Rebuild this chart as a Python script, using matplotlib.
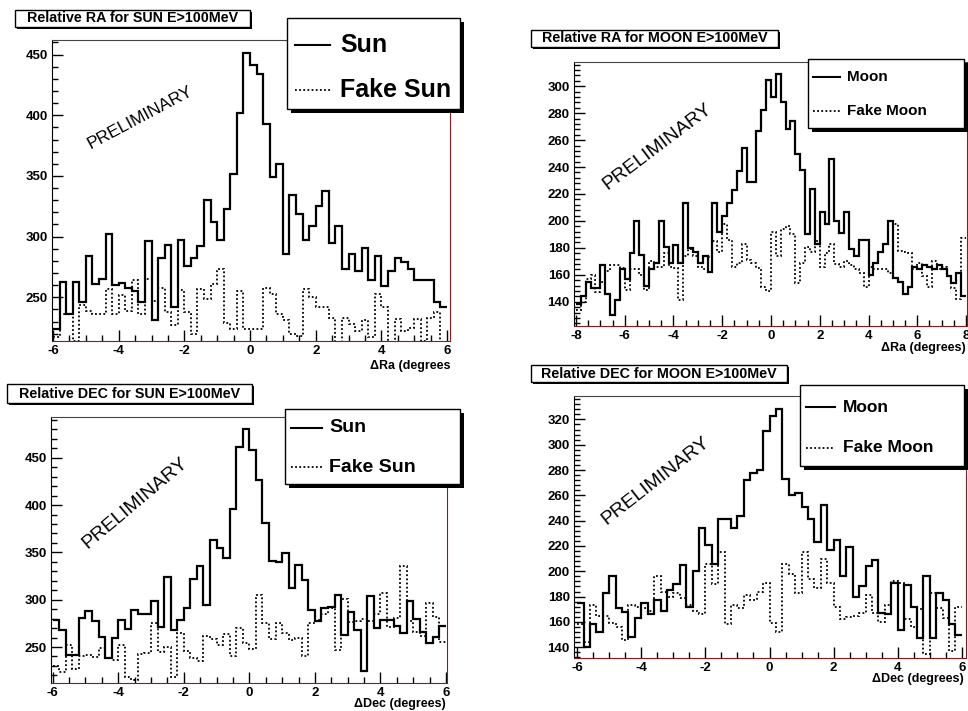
import numpy as np
import matplotlib
matplotlib.use("Agg")
import matplotlib.pyplot as plt
from matplotlib.patches import Rectangle
from matplotlib.lines import Line2D
from matplotlib.ticker import MultipleLocator

plt.rcParams["font.family"] = ["Liberation Sans", "DejaVu Sans"]
plt.rcParams["axes.unicode_minus"] = False

# counts per 0.2 deg bin
sun_ra = [224, 263, 236, 263, 246, 284, 261, 265, 302, 260, 262, 258, 255, 246, 296,
          231, 282, 293, 242, 297, 276, 282, 292, 330, 312, 297, 323, 352, 402, 451,
          441, 434, 393, 349, 360, 286, 334, 319, 297, 309, 325, 338, 295, 309, 273,
          286, 272, 291, 264, 284, 259, 272, 282, 279, 273, 264, 264, 264, 246, 242]
fake_sun_ra = [217, 236, 236, 214, 244, 239, 236, 236, 257, 236, 252, 239, 264, 236, 265,
               247, 258, 238, 227, 256, 238, 220, 257, 249, 261, 273, 229, 224, 255, 224,
               224, 224, 258, 253, 236, 231, 220, 218, 257, 250, 242, 242, 233, 213, 233,
               228, 222, 231, 217, 253, 242, 213, 232, 222, 225, 232, 214, 233, 238, 213]

moon_ra = [138, 144, 155, 150, 150, 167, 146, 130, 141, 164, 157, 176, 200, 175, 152, 164,
           169, 200, 181, 169, 182, 169, 213, 180, 177, 169, 174, 162, 213, 192, 204, 213,
           223, 237, 254, 229, 229, 267, 282, 305,
           292, 309, 288, 268, 274, 250, 238, 190, 224, 183, 207, 198, 246, 200, 191, 207,
           179, 174, 186, 186, 160, 169, 177, 183, 200, 158, 155, 146, 151, 166, 164, 167,
           166, 164, 167, 164, 159, 154, 161, 144]
fake_moon_ra = [134, 140, 157, 160, 147, 155, 163, 167, 167, 165, 149, 164, 164, 160, 149, 170,
                166, 166, 176, 166, 165, 141, 174, 179, 174, 166, 164, 173, 185, 177, 198, 186,
                166, 169, 183, 171, 169, 165, 151, 148,
                192, 174, 194, 196, 190, 154, 169, 181, 177, 185, 166, 176, 183, 168, 166, 170,
                167, 164, 161, 151, 166, 164, 164, 164, 161, 198, 178, 177, 176, 164, 169, 159,
                151, 170, 164, 166, 159, 150, 142, 187]

sun_dec = [279, 268, 242, 242, 281, 288, 277, 261, 238, 260, 279, 269, 289, 285, 285,
           299, 271, 324, 268, 279, 291, 322, 336, 294, 363, 355, 344, 396, 461, 480,
           458, 426, 381, 341, 340, 349, 312, 337, 321, 289, 277, 291, 292, 305, 263,
           287, 268, 225, 304, 270, 279, 279, 272, 265, 299, 280, 266, 254, 261, 272]
fake_sun_dec = [230, 224, 252, 227, 240, 242, 239, 249, 238, 236, 252, 218, 215, 243, 244,
                275, 245, 250, 218, 265, 246, 238, 235, 262, 259, 252, 264, 241, 270, 254,
                248, 305, 275, 258, 275, 265, 257, 260, 241, 275, 279, 285, 291, 247, 301,
                276, 278, 280, 278, 285, 307, 271, 281, 336, 277, 266, 262, 296, 282, 255]

moon_dec = [175, 140, 158, 152, 183, 196, 171, 168, 148, 163, 175, 166, 177, 169, 185,
            190, 205, 172, 200, 234, 221, 206, 241, 241, 234, 244, 272, 278, 280, 311,
            323, 328, 273, 260, 262, 251, 241, 223, 252, 217, 225, 196, 219, 180, 188,
            204, 209, 167, 166, 191, 154, 189, 172, 147, 196, 147, 183, 177, 158, 150]
fake_moon_dec = [158, 144, 173, 165, 165, 159, 156, 146, 173, 172, 171, 169, 196, 184, 180,
                 183, 179, 173, 169, 166, 206, 190, 215, 158, 173, 171, 181, 177, 184, 191,
                 159, 152, 206, 198, 183, 215, 194, 187, 210, 191, 172, 162, 164, 165, 167,
                 181, 167, 160, 173, 192, 191, 162, 156, 170, 135, 183, 171, 163, 137, 172]

edges_6 = np.linspace(-6, 6, 61)
edges_8 = np.linspace(-8, 8, 81)

W, H = 968, 711
fig = plt.figure(figsize=(W / 100, H / 100), dpi=100)


def fx(x):
    return x / W


def fy(y):
    return 1 - y / H


def box(x0, y0, x1, y1, shadow):
    if shadow:
        fig.add_artist(Rectangle((fx(x0 + shadow), fy(y1 + shadow)), (x1 - x0) / W, (y1 - y0) / H,
                                 transform=fig.transFigure, facecolor="black", edgecolor="none", zorder=5))
    fig.add_artist(Rectangle((fx(x0), fy(y1)), (x1 - x0) / W, (y1 - y0) / H,
                             transform=fig.transFigure, facecolor="white", edgecolor="black",
                             lw=1, zorder=6))


panels = [
    dict(solid=sun_ra, dotted=fake_sun_ra, edges=edges_6, frame=(52, 40, 450, 341),
         xlim=(-6.03, 6.09), ylim=(214, 462), ytk=(50, 10),
         title="Relative RA for SUN E>100MeV", tbox=(15, 10, 250, 27),
         lbox=(287, 18, 460, 109), names=("Sun", "Fake Sun"), lsize=18,
         lline=(295, 330, 45, 90, 340), prelim=(140, 118, 28, 12.5),
         xlabel="ΔRa (degrees", xl=(450, 366)),
    dict(solid=moon_ra, dotted=fake_moon_ra, edges=edges_8, frame=(574, 62, 967, 326),
         xlim=(-8.08, 8.04), ylim=(122, 318), ytk=(20, 4),
         title="Relative RA for MOON E>100MeV", tbox=(531, 30, 778, 47),
         lbox=(808, 59, 964, 128), names=("Moon", "Fake Moon"), lsize=11,
         lline=(813, 840, 77, 111, 847), prelim=(657, 147, 37, 14),
         xlabel="ΔRa (degrees)", xl=(966, 348)),
    dict(solid=sun_dec, dotted=fake_sun_dec, edges=edges_6, frame=(51, 417, 447, 683),
         xlim=(-6.05, 6.03), ylim=(212, 493), ytk=(50, 10),
         title="Relative DEC for SUN E>100MeV", tbox=(7, 384, 252, 403),
         lbox=(285, 409, 460, 484), names=("Sun", "Fake Sun"), lsize=14,
         lline=(291, 322, 428, 467, 329), prelim=(135, 503, 40, 14),
         xlabel="ΔDec (degrees)", xl=(446, 704)),
    dict(solid=moon_dec, dotted=fake_moon_dec, edges=edges_6, frame=(574, 396, 966, 658),
         xlim=(-6.1, 6.13), ylim=(131.5, 338.5), ytk=(20, 4),
         title="Relative DEC for MOON E>100MeV", tbox=(531, 365, 787, 382),
         lbox=(800, 385, 964, 466), names=("Moon", "Fake Moon"), lsize=12.5,
         lline=(806, 835, 407, 448, 843), prelim=(656, 481, 38, 14),
         xlabel="ΔDec (degrees)", xl=(964, 679)),
]

for p in panels:
    x0, y0, x1, y1 = p["frame"]
    ax = fig.add_axes([fx(x0), fy(y1), (x1 - x0) / W, (y1 - y0) / H])
    ax.stairs(p["solid"], p["edges"], baseline=None, color="black", lw=1.6)
    ax.stairs(p["dotted"], p["edges"], baseline=None, color="black", lw=1.3,
              linestyle=(0, (1, 1.3)))
    ax.set_xlim(*p["xlim"])
    ax.set_ylim(*p["ylim"])
    ax.xaxis.set_major_locator(MultipleLocator(2))
    ax.xaxis.set_minor_locator(MultipleLocator(0.5))
    ax.yaxis.set_major_locator(MultipleLocator(p["ytk"][0]))
    ax.yaxis.set_minor_locator(MultipleLocator(p["ytk"][1]))
    ax.tick_params(which="both", direction="in", top=False, right=False, width=1,
                   labelsize=9.5, pad=3)
    ax.tick_params(which="major", length=8)
    ax.tick_params(which="minor", length=4)
    for lab in ax.get_xticklabels() + ax.get_yticklabels():
        lab.set_fontweight("bold")
    ax.spines["bottom"].set_color("#8b1a1a")
    ax.spines["right"].set_color("#8b1a1a")
    ax.spines["top"].set_color("#444444")

    cx, cy, rot, size = p["prelim"]
    fig.text(fx(cx), fy(cy), "PRELIMINARY", rotation=rot, fontsize=size,
             ha="center", va="center", rotation_mode="anchor")

    fig.text(fx(p["xl"][0]), fy(p["xl"][1]), p["xlabel"], ha="right", va="center",
             fontsize=9, fontweight="bold")

    tx0, ty0, tx1, ty1 = p["tbox"]
    box(tx0, ty0, tx1, ty1, 2)
    fig.text(fx((tx0 + tx1) / 2), fy((ty0 + ty1) / 2), p["title"], ha="center", va="center",
             fontsize=10.3, fontweight="bold", zorder=7)

    lx0, ly0, lx1, ly1 = p["lbox"]
    box(lx0, ly0, lx1, ly1, 4)
    a, b, ya, yb, tx = p["lline"]
    fig.add_artist(Line2D([fx(a), fx(b)], [fy(ya), fy(ya)], transform=fig.transFigure,
                          color="black", lw=1.5, zorder=7))
    fig.add_artist(Line2D([fx(a), fx(b)], [fy(yb), fy(yb)], transform=fig.transFigure,
                          color="black", lw=1.3, linestyle=(0, (1, 1.3)), zorder=7))
    fig.text(fx(tx), fy(ya), p["names"][0], ha="left", va="center",
             fontsize=p["lsize"], fontweight="bold", zorder=7)
    fig.text(fx(tx), fy(yb), p["names"][1], ha="left", va="center",
             fontsize=p["lsize"], fontweight="bold", zorder=7)

fig.savefig("out.png", dpi=100)
